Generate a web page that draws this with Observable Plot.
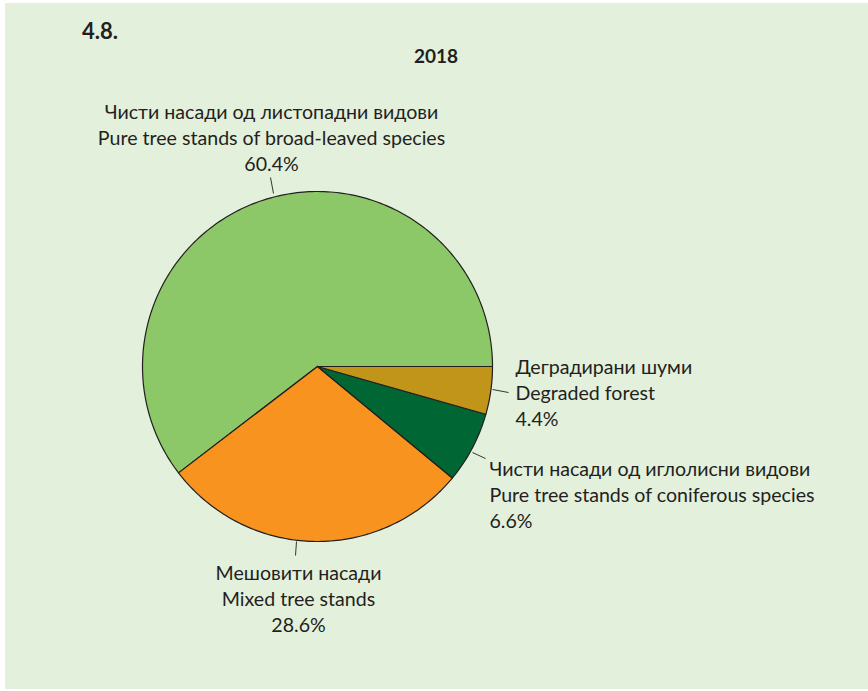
<!DOCTYPE html>
<html>
<head>
<meta charset="utf-8">
<script src="https://cdn.jsdelivr.net/npm/d3@7"></script>
<script src="https://cdn.jsdelivr.net/npm/@observablehq/plot@0.6"></script>
<style>
  html, body { margin: 0; padding: 0; background: #ffffff; }
  #frame { position: absolute; left: 5px; top: 3px; width: 863px; height: 686px; background: #e3f0dc; }
  #chart { position: absolute; left: 0; top: 0; }
  .ttl { position: absolute; font-family: Lato, "Open Sans", sans-serif; font-weight: bold; color: #231f20; }
</style>
</head>
<body>
<div id="frame"></div>
<div class="ttl" style="left:82px; top:17px; font-size:22px;">4.8.</div>
<div class="ttl" style="left:414px; top:44px; font-size:19px;">2018</div>
<div id="chart"></div>
<script>
// ---- data ----
const categoriesMk = ["Чисти насади од листопадни видови", "Мешовити насади", "Чисти насади од иглолисни видови", "Деградирани шуми"];
const categoriesEn = ["Pure tree stands of broad-leaved species", "Mixed tree stands", "Pure tree stands of coniferous species", "Degraded forest"];
const shares = [60.4, 28.6, 6.6, 4.4];
const colors = ["#8cc868", "#f7931e", "#006633", "#c0951a"];

// ---- geometry (data units: unit circle) ----
const total = d3.sum(shares);
let acc = 0;
const slices = shares.map((v, i) => {
  const a0 = acc / total * 2 * Math.PI;
  acc += v;
  const a1 = acc / total * 2 * Math.PI;
  return {key: categoriesEn[i], a0, a1, v};
});
const pts = [];
slices.forEach(s => {
  pts.push({key: s.key, x: 0, y: 0});
  const n = Math.max(4, Math.ceil((s.a1 - s.a0) / (Math.PI / 180)));
  for (let k = 0; k <= n; k++) {
    const a = s.a0 + (s.a1 - s.a0) * k / n;
    pts.push({key: s.key, x: Math.cos(a), y: Math.sin(a)});
  }
  pts.push({key: s.key, x: 0, y: 0});
});

// label layout (pixel placement of annotations, converted to data units)
const cx = 317, cy = 366, R = 175;
const toX = px => (px - cx) / R, toY = py => (cy - py) / R;
const layout = [
  {x: 271, y: 112, anchor: "middle", lead: [[273, 193], [270, 177]]},
  {x: 298, y: 573, anchor: "middle", lead: [[296, 541], [295, 555]]},
  {x: 489, y: 469, anchor: "start", lead: [[472, 452], [485, 458]]},
  {x: 515, y: 367, anchor: "start", lead: [[492, 389], [508, 392]]}
];
const labels = [];
const leaders = [];
slices.forEach((s, i) => {
  const L = layout[i];
  const lines = [categoriesMk[i], categoriesEn[i], shares[i].toFixed(1) + "%"];
  lines.forEach((t, j) => labels.push({x: toX(L.x), y: toY(L.y + j * 26), text: t, anchor: L.anchor}));
  leaders.push({x1: toX(L.lead[0][0]), y1: toY(L.lead[0][1]), x2: toX(L.lead[1][0]), y2: toY(L.lead[1][1])});
});

const plot = Plot.plot({
  width: 868,
  height: 691,
  margin: 0,
  style: {background: "transparent", fontFamily: "Lato, 'Open Sans', sans-serif"},
  x: {domain: [-1, 1], range: [cx - R, cx + R], axis: null},
  y: {domain: [-1, 1], range: [cy + R, cy - R], axis: null},
  color: {domain: categoriesEn, range: colors},
  marks: [
    Plot.line(pts, {x: "x", y: "y", z: "key", fill: "key", stroke: "#231f20", strokeWidth: 1.2, curve: "linear"}),
    Plot.link(leaders, {x1: "x1", y1: "y1", x2: "x2", y2: "y2", stroke: "#231f20", strokeWidth: 0.9}),
    Plot.text(labels.filter(d => d.anchor === "middle"), {x: "x", y: "y", text: "text", textAnchor: "middle", fontSize: 19.6, fill: "#231f20"}),
    Plot.text(labels.filter(d => d.anchor === "start"), {x: "x", y: "y", text: "text", textAnchor: "start", fontSize: 19.6, fill: "#231f20"})
  ]
});
document.getElementById("chart").appendChild(plot);
</script>
</body>
</html>
